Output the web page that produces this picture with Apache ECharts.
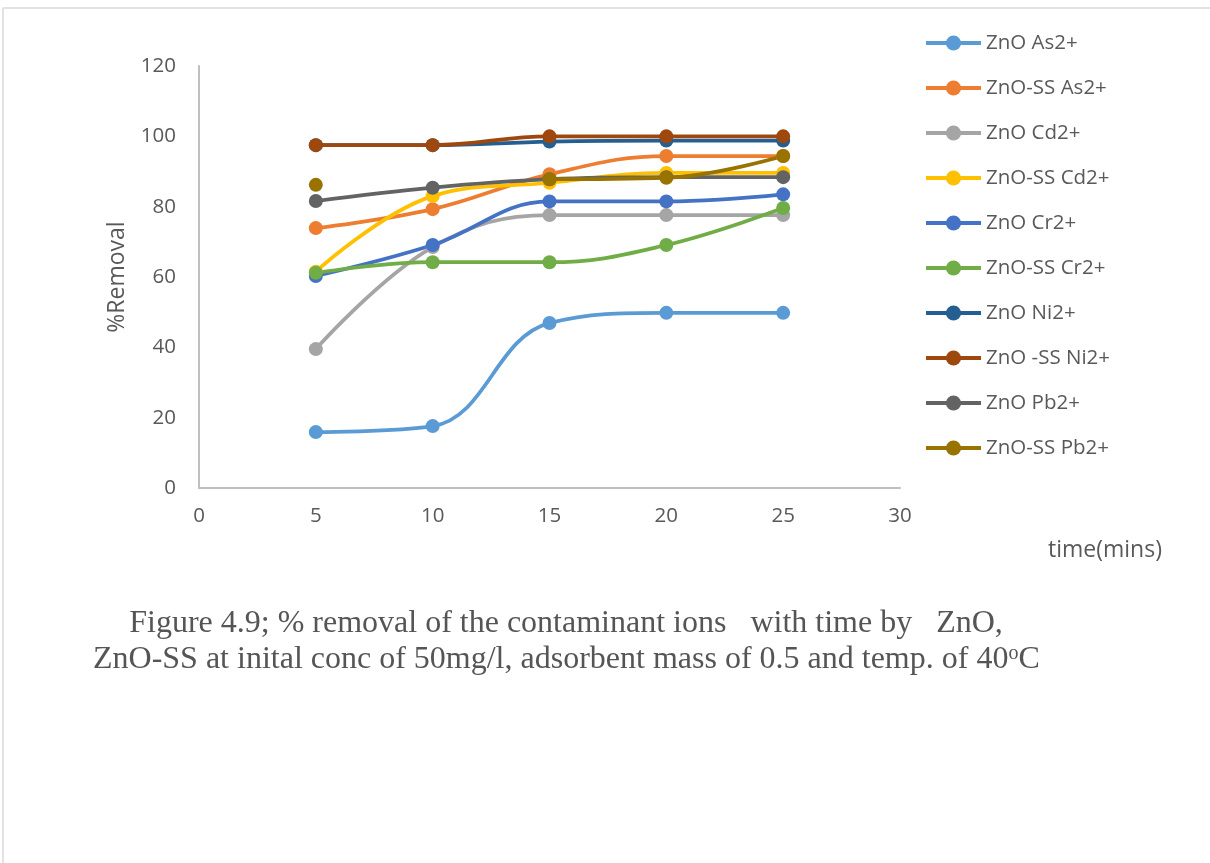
<!DOCTYPE html>
<html>
<head>
<meta charset="utf-8">
<script src="https://cdn.jsdelivr.net/npm/echarts@6/dist/echarts.min.js"></script>
<style>
  html, body { margin: 0; padding: 0; background: #ffffff; }
  #chart { width: 1210px; height: 863px; }
</style>
</head>
<body>
<div id="chart"></div>
<script>
// Contact time (minutes)
const times = [5, 10, 15, 20, 25];

// % removal per adsorbent / ion
const seriesNames = [
  'ZnO As2+', 'ZnO-SS As2+', 'ZnO Cd2+', 'ZnO-SS Cd2+', 'ZnO Cr2+',
  'ZnO-SS Cr2+', 'ZnO Ni2+', 'ZnO -SS Ni2+', 'ZnO Pb2+', 'ZnO-SS Pb2+'
];
const znoAs    = [15.9, 17.6, 46.9, 49.8, 49.8];
const znoSsAs  = [73.9, 79.3, 89.2, 94.4, 94.4];
const znoCd    = [39.5, 68.5, 77.6, 77.6, 77.6];
const znoSsCd  = [61.5, 83.0, 86.8, 89.6, 89.6];
const znoCr    = [60.3, 69.1, 81.5, 81.5, 83.5];
const znoSsCr  = [61.2, 64.2, 64.2, 69.1, 79.6];
const znoNi    = [97.5, 97.5, 98.5, 98.8, 98.8];
const znoSsNi  = [97.5, 97.5, 100, 100, 100];
const znoPb    = [81.6, 85.4, 87.8, 88.4, 88.4];
const znoSsPb  = [86.2, null, 87.8, 88.2, 94.4];

const seriesValues = [znoAs, znoSsAs, znoCd, znoSsCd, znoCr, znoSsCr, znoNi, znoSsNi, znoPb, znoSsPb];

const xTicks = { min: 0, max: 30, interval: 5 };
const yTicks = { min: 0, max: 120, interval: 20 };

const palette = ['#5B9BD5', '#ED7D31', '#A5A5A5', '#FFC000', '#4472C4',
                 '#70AD47', '#255E91', '#9E480E', '#636363', '#997300'];

const uiFont = '"Open Sans", "Noto Sans", sans-serif';
const serifFont = '"Liberation Serif", "Times New Roman", serif';
const textGrey = '#595959';
const captionGrey = '#555555';

const chart = echarts.init(document.getElementById('chart'), null, { renderer: 'canvas' });

const series = seriesNames.map((name, i) => ({
  name: name,
  type: 'line',
  smooth: 0.4,
  connectNulls: false,
  symbol: 'circle',
  symbolSize: 14,
  showSymbol: true,
  lineStyle: { width: 3.75, color: palette[i] },
  itemStyle: { color: palette[i] },
  emphasis: { disabled: true },
  data: times.map((t, k) => [t, seriesValues[i][k]])
}));

chart.setOption({
  animation: false,
  backgroundColor: '#ffffff',
  grid: { left: 199, top: 66, width: 701, height: 422, containLabel: false },
  xAxis: {
    type: 'value',
    min: xTicks.min, max: xTicks.max, interval: xTicks.interval,
    axisLine: { show: true, lineStyle: { color: '#BFBFBF', width: 2 } },
    axisTick: { show: false },
    splitLine: { show: false },
    axisLabel: { color: textGrey, fontFamily: uiFont, fontSize: 20.5, margin: 18 }
  },
  yAxis: {
    type: 'value',
    min: yTicks.min, max: yTicks.max, interval: yTicks.interval,
    axisLine: { show: true, lineStyle: { color: '#BFBFBF', width: 2 } },
    axisTick: { show: false },
    splitLine: { show: false },
    axisLabel: { color: textGrey, fontFamily: uiFont, fontSize: 20.5, margin: 23 },
    name: '%Removal',
    nameLocation: 'middle',
    nameRotate: 90,
    nameGap: 70,
    nameTextStyle: { color: textGrey, fontFamily: uiFont, fontSize: 23 }
  },
  legend: {
    orient: 'vertical',
    left: 924,
    top: 31,
    padding: 0,
    itemWidth: 55,
    itemHeight: 19,
    itemGap: 21,
    lineStyle: { width: 4 },
    textStyle: { color: textGrey, fontFamily: uiFont, fontSize: 20.5, lineHeight: 24 },
    data: seriesNames
  },
  graphic: [
    { type: 'line', shape: { x1: 3, y1: 8, x2: 1210, y2: 8 }, style: { stroke: '#D9D9D9', lineWidth: 1.5 } },
    { type: 'line', shape: { x1: 3, y1: 8, x2: 3, y2: 863 }, style: { stroke: '#D9D9D9', lineWidth: 1.5 } },
    {
      type: 'text',
      style: { x: 1048, y: 550, verticalAlign: 'middle', text: 'time(mins)', fill: textGrey, font: '23px ' + uiFont }
    },
    {
      type: 'text',
      style: {
        x: 566, y: 624, align: 'center', verticalAlign: 'middle',
        text: 'Figure 4.9; % removal of the contaminant ions   with time by   ZnO,',
        fill: captionGrey, font: '32px ' + serifFont
      }
    },
    {
      type: 'text',
      style: {
        x: 93, y: 660, verticalAlign: 'middle',
        text: '{t|ZnO-SS at inital conc of 50mg/l, adsorbent mass of 0.5 and temp. of 40}{s|o}{t|C}',
        rich: {
          t: { fill: captionGrey, font: '32px ' + serifFont },
          s: { fill: captionGrey, font: '20px ' + serifFont, verticalAlign: 'top', padding: [0, 0, 12, 0] }
        }
      }
    }
  ],
  series: series
});
</script>
</body>
</html>
